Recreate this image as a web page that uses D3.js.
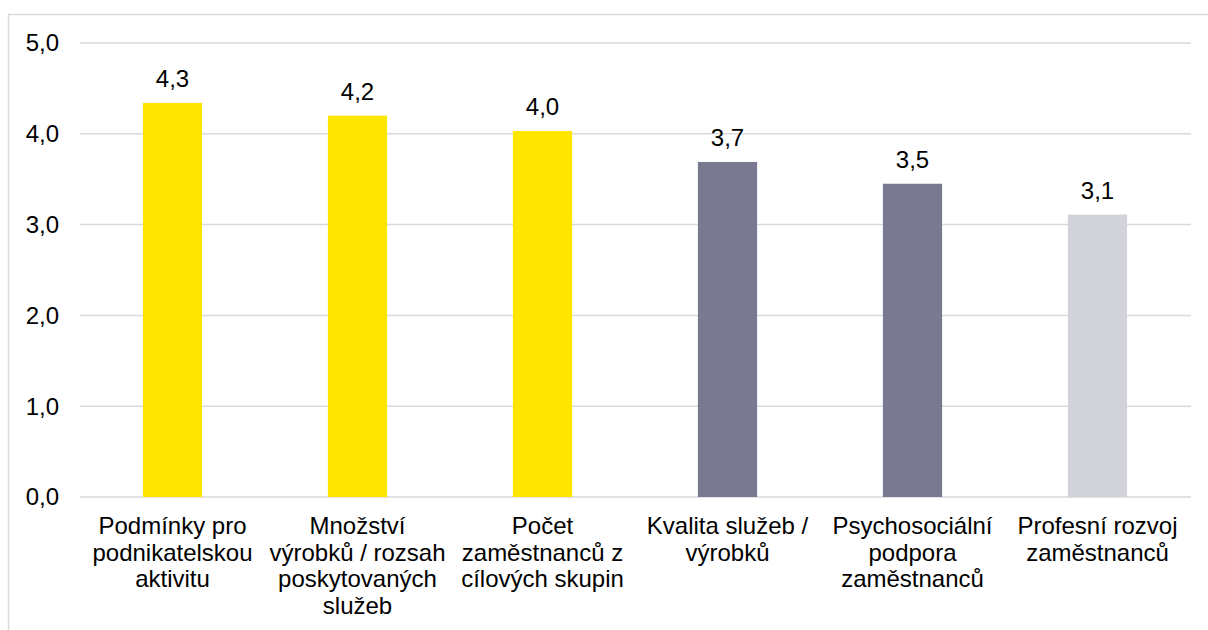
<!DOCTYPE html>
<html>
<head>
<meta charset="utf-8">
<script src="https://cdn.jsdelivr.net/npm/d3@7"></script>
<style>
  body { margin: 0; background: #fff; }
  svg { display: block; font-family: "Liberation Sans", Arial, sans-serif; }
</style>
</head>
<body>
<svg id="chart" width="1208" height="630"></svg>
<script>
// data
const categories = [
    ["Podmínky pro", "podnikatelskou", "aktivitu"],
    ["Množství", "výrobků / rozsah", "poskytovaných", "služeb"],
    ["Počet", "zaměstnanců z", "cílových skupin"],
    ["Kvalita služeb /", "výrobků"],
    ["Psychosociální", "podpora", "zaměstnanců"],
    ["Profesní rozvoj", "zaměstnanců"]
];
const values = [4.34, 4.20, 4.03, 3.69, 3.45, 3.11];
const valueLabels = ["4,3", "4,2", "4,0", "3,7", "3,5", "3,1"];
const barColors = ["#FFE600", "#FFE600", "#FFE600", "#797990", "#797990", "#D2D2DB"];
const yTicks = [0, 1, 2, 3, 4, 5];

const svg = d3.select("#chart"),
    width = +svg.attr("width"),
    height = +svg.attr("height");

// outer frame
svg.append("rect")
    .attr("x", 8.5).attr("y", 14.5)
    .attr("width", width + 10).attr("height", height + 10)
    .attr("fill", "none")
    .attr("stroke", "#d9d9d9")
    .attr("stroke-width", 1.5);

let x = d3.scaleBand()
    .domain(d3.range(categories.length))
    .range([80, 1190])
    .paddingInner(0.68)
    .paddingOuter(0.34);

let y = d3.scaleLinear()
    .domain([0, 5])
    .range([497, 43]);

// gridlines
svg.append("g")
    .selectAll("line")
    .data(yTicks)
    .enter()
    .append("line")
    .attr("x1", 80).attr("x2", 1191)
    .attr("y1", d => y(d)).attr("y2", d => y(d))
    .attr("stroke", "#d9d9d9")
    .attr("stroke-width", 1.5);

// y axis labels
svg.append("g")
    .selectAll("text")
    .data(yTicks)
    .enter()
    .append("text")
    .attr("x", 59)
    .attr("y", d => y(d))
    .attr("dy", "0.35em")
    .attr("text-anchor", "end")
    .attr("font-size", 24)
    .attr("fill", "#000")
    .text(d => d.toFixed(1).replace(".", ","));

// bars
svg.append("g")
    .selectAll("rect")
    .data(values)
    .enter()
    .append("rect")
    .attr("x", (d, i) => x(i))
    .attr("y", d => y(d))
    .attr("width", x.bandwidth())
    .attr("height", d => y(0) - y(d))
    .attr("fill", (d, i) => barColors[i]);

// value labels
svg.append("g")
    .selectAll("text")
    .data(values)
    .enter()
    .append("text")
    .attr("x", (d, i) => x(i) + x.bandwidth() / 2)
    .attr("y", d => y(d) - 16)
    .attr("text-anchor", "middle")
    .attr("font-size", 24)
    .attr("fill", "#000")
    .text((d, i) => valueLabels[i]);

// category labels
let cat = svg.append("g")
    .selectAll("text")
    .data(categories)
    .enter()
    .append("text")
    .attr("x", (d, i) => x(i) + x.bandwidth() / 2)
    .attr("y", 534)
    .attr("text-anchor", "middle")
    .attr("font-size", 24)
    .attr("fill", "#000");

cat.selectAll("tspan")
    .data(d => d)
    .enter()
    .append("tspan")
    .attr("x", function () { return d3.select(this.parentNode).attr("x"); })
    .attr("dy", (d, i) => i === 0 ? 0 : 26.5)
    .text(d => d);
</script>
</body>
</html>
